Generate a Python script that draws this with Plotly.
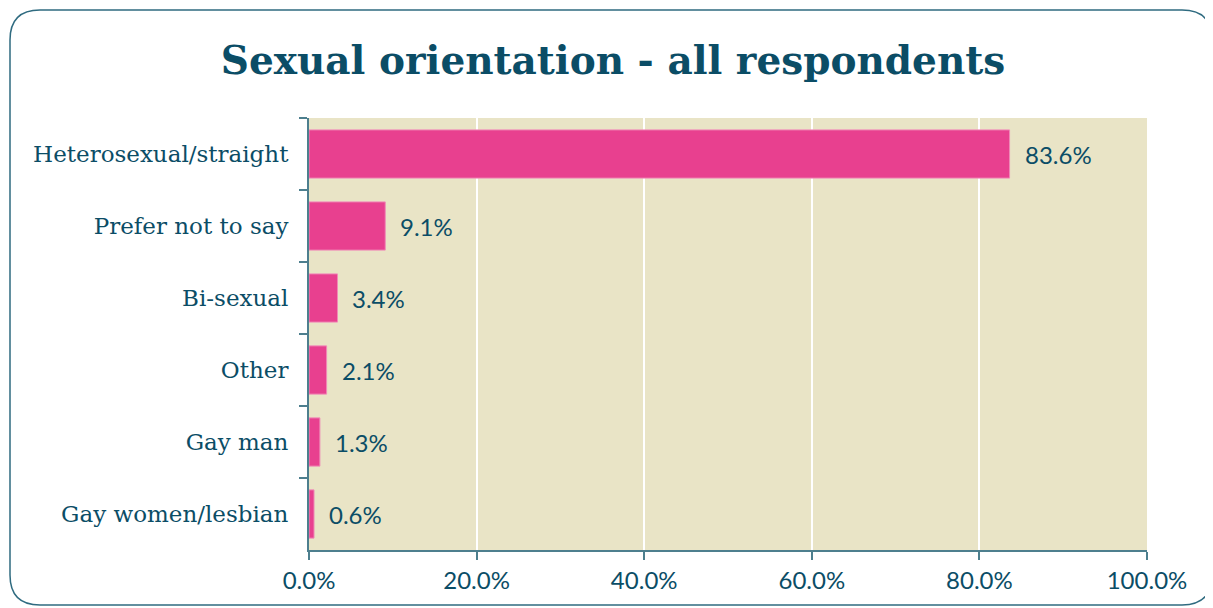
import plotly.graph_objects as go

categories = ["Heterosexual/straight", "Prefer not to say", "Bi-sexual", "Other",
              "Gay man", "Gay women/lesbian"]
percentages = [83.6, 9.1, 3.4, 2.1, 1.3, 0.6]
x_ticks = [0, 20, 40, 60, 80, 100]
x_tick_labels = ["0.0%", "20.0%", "40.0%", "60.0%", "80.0%", "100.0%"]

TEXT = "#0b4d66"
PINK = "#e8408f"
AXIS = "#4d7f8e"

# page has an 8px body margin, so layout is shifted by that
OFF = 8
W, H = 1213, 608
L, R, T, B = 309 - OFF, 66 + OFF, 118 - OFF, 58 + OFF
pw, ph = W - L - R, H - T - B


def px_x(p):
    return (p - OFF - L) / pw


def px_y(p):
    return (H - B - (p - OFF)) / ph


fig = go.Figure()
fig.add_trace(go.Bar(
    y=categories, x=percentages, orientation="h",
    marker=dict(color=PINK, line=dict(color="#f08ab8", width=1)),
    hoverinfo="skip",
))

for c, v in zip(categories, percentages):
    fig.add_annotation(x=v, y=c, text=f"{v:.1f}%", showarrow=False,
                       xanchor="left", xshift=13,
                       font=dict(family="Lato", size=24, color=TEXT))

# rounded frame around the whole chart
x0, x1, y0, y1, r = 10, 1212, 10, 605, 30
path = (f"M {px_x(x0 + r)},{px_y(y0)} L {px_x(x1 - r)},{px_y(y0)} "
        f"Q {px_x(x1)},{px_y(y0)} {px_x(x1)},{px_y(y0 + r)} "
        f"L {px_x(x1)},{px_y(y1 - r)} Q {px_x(x1)},{px_y(y1)} {px_x(x1 - r)},{px_y(y1)} "
        f"L {px_x(x0 + r)},{px_y(y1)} Q {px_x(x0)},{px_y(y1)} {px_x(x0)},{px_y(y1 - r)} "
        f"L {px_x(x0)},{px_y(y0 + r)} Q {px_x(x0)},{px_y(y0)} {px_x(x0 + r)},{px_y(y0)} Z")
fig.add_shape(type="path", path=path, xref="paper", yref="paper",
              line=dict(color="#2f6b80", width=1.5), layer="below")

fig.update_layout(
    width=W, height=H,
    margin=dict(l=L, r=R, t=T, b=B),
    paper_bgcolor="white",
    plot_bgcolor="#e9e4c6",
    bargap=0.33,
    showlegend=False,
    title=dict(text="<b>Sexual orientation - all respondents</b>",
               x=(613 - OFF) / W, xanchor="center",
               y=1 - (60 - OFF) / H, yanchor="middle",
               font=dict(family="DejaVu Serif", size=39, color=TEXT)),
)
fig.update_xaxes(
    range=[0, 100], tickvals=x_ticks, ticktext=x_tick_labels,
    showgrid=True, gridcolor="white", gridwidth=1.5,
    showline=True, linecolor=AXIS, linewidth=2,
    ticks="outside", ticklen=8, tickcolor=AXIS, tickwidth=2,
    tickfont=dict(family="Lato", size=24, color=TEXT),
    zeroline=False,
)
fig.update_yaxes(
    autorange="reversed", tickson="boundaries",
    showline=True, linecolor=AXIS, linewidth=2,
    ticks="outside", ticklen=8, tickcolor=AXIS, tickwidth=2,
    ticklabelstandoff=14,
    tickfont=dict(family="DejaVu Serif", size=23, color=TEXT),
    showgrid=False,
)

fig.write_html("out.html")
